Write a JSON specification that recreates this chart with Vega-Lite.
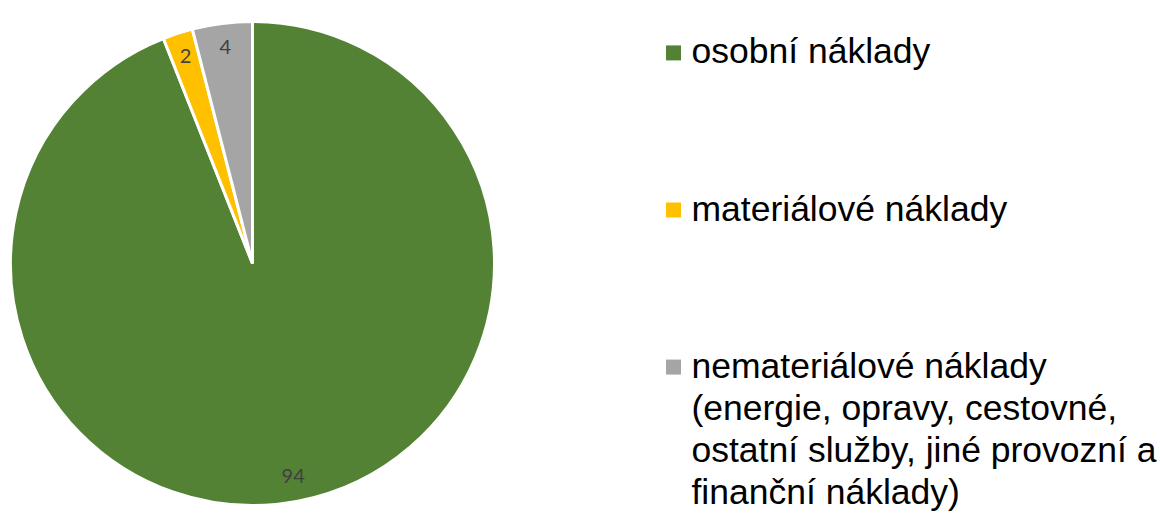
{
  "$schema": "https://vega.github.io/schema/vega-lite/v6.json",
  "background": "white",
  "padding": {"top": 15.5, "left": 0, "right": 0, "bottom": 0},
  "spacing": 161,
  "config": {"view": {"stroke": null}},
  "datasets": {
    "naklady": [
      {"nazev": "osobní náklady", "popis": "osobní náklady", "podil": 94, "poradi": 1},
      {"nazev": "materiálové náklady", "popis": "materiálové náklady", "podil": 2, "poradi": 2},
      {"nazev": "nemateriálové náklady", "popis": "nemateriálové náklady\n(energie, opravy, cestovné,\nostatní služby, jiné provozní a\nfinanční náklady)", "podil": 4, "poradi": 3}
    ]
  },
  "hconcat": [
    {
      "width": 505,
      "height": 484,
      "data": {"name": "naklady"},
      "encoding": {
        "theta": {"field": "podil", "type": "quantitative", "stack": true},
        "order": {"field": "poradi", "type": "ordinal"}
      },
      "layer": [
        {
          "mark": {"type": "arc", "stroke": "white", "strokeWidth": 3},
          "encoding": {
            "color": {
              "field": "nazev",
              "type": "nominal",
              "scale": {
                "domain": ["osobní náklady", "materiálové náklady", "nemateriálové náklady"],
                "range": ["#548235", "#FFC000", "#A5A5A5"]
              },
              "legend": null
            }
          }
        },
        {
          "mark": {"type": "text", "radius": 217, "font": "Lato", "fontSize": 20, "fill": "#404040", "baseline": "middle", "align": "center"},
          "encoding": {
            "text": {"field": "podil", "type": "quantitative"}
          }
        }
      ]
    },
    {
      "width": 15,
      "height": 377,
      "data": {"name": "naklady"},
      "encoding": {
        "y": {
          "field": "nazev",
          "type": "nominal",
          "sort": ["osobní náklady", "materiálové náklady", "nemateriálové náklady"],
          "scale": {"type": "point", "padding": 0.2},
          "axis": null
        }
      },
      "layer": [
        {
          "mark": {"type": "point", "shape": "square", "filled": true, "size": 225, "opacity": 1},
          "encoding": {
            "color": {
              "field": "nazev",
              "type": "nominal",
              "scale": {
                "domain": ["osobní náklady", "materiálové náklady", "nemateriálové náklady"],
                "range": ["#548235", "#FFC000", "#A5A5A5"]
              },
              "legend": null
            }
          }
        },
        {
          "mark": {"type": "text", "align": "left", "baseline": "alphabetic", "dx": 18, "dy": 10.5, "font": "Liberation Sans", "fontSize": 35.5, "lineHeight": 42, "lineBreak": "\n", "fill": "#000000"},
          "encoding": {
            "text": {"field": "popis", "type": "nominal"}
          }
        }
      ]
    }
  ]
}
